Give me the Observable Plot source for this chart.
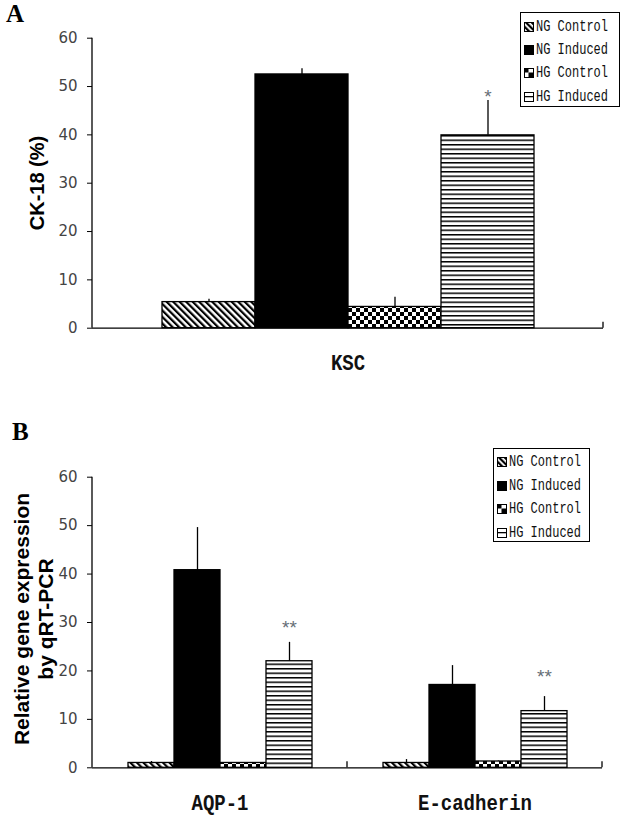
<!DOCTYPE html>
<html><head><meta charset="utf-8">
<script src="https://cdn.jsdelivr.net/npm/d3@7"></script>
<script src="https://cdn.jsdelivr.net/npm/@observablehq/plot@0.6"></script>
<style>
body{margin:0;background:#fff;}
#page{position:relative;width:620px;height:817px;overflow:hidden;background:#fff;}
.panel{position:absolute;left:0;}
.letter{position:absolute;font-family:"Liberation Serif";font-weight:bold;font-size:25px;line-height:1;color:#000;}
.ylab{position:absolute;font-family:"Liberation Sans";font-weight:bold;font-size:20px;white-space:nowrap;transform:translate(-50%,-50%) rotate(-90deg);text-align:center;line-height:24px;color:#000;}
.legend{position:absolute;border:1.5px solid #000;background:#fff;box-sizing:border-box;font-family:"Liberation Mono";font-size:12px;color:#111;}
.legend .row{position:absolute;display:flex;align-items:center;height:20px;white-space:pre;}
.legend svg{margin-right:2px;}
.legend span{display:inline-block;transform:scaleY(1.3);}
</style></head>
<body>
<div id="page">
<svg width="0" height="0" style="position:absolute">
  <defs>
    <pattern id="p-diag" patternUnits="userSpaceOnUse" width="4.6" height="4.6" patternTransform="rotate(-45)"><rect width="4.6" height="4.6" fill="#fff"/><rect width="2.2" height="4.6" fill="#000"/></pattern>
    <pattern id="p-check" patternUnits="userSpaceOnUse" width="8" height="8"><rect width="8" height="8" fill="#fff"/><rect width="4" height="4" fill="#000"/><rect x="4" y="4" width="4" height="4" fill="#000"/></pattern>
    <pattern id="p-hline" patternUnits="userSpaceOnUse" width="10" height="4.5"><rect width="10" height="4.5" fill="#fff"/><rect width="10" height="1.5" fill="#000"/></pattern>
    <pattern id="s-diag" patternUnits="userSpaceOnUse" width="4" height="4" patternTransform="rotate(-45)"><rect width="4" height="4" fill="#fff"/><rect width="2.2" height="4" fill="#000"/></pattern>
    <pattern id="s-check" patternUnits="userSpaceOnUse" width="9" height="9"><rect width="9" height="9" fill="#fff"/><rect width="4.5" height="4.5" fill="#000"/><rect x="4.5" y="4.5" width="4.5" height="4.5" fill="#000"/></pattern>
    <pattern id="s-hline" patternUnits="userSpaceOnUse" width="9" height="9"><rect width="9" height="9" fill="#fff"/><rect y="4" width="9" height="1.3" fill="#000"/></pattern>
  </defs>
</svg>
<div id="A" class="panel" style="top:0"></div>
<div id="B" class="panel" style="top:380px"></div>
<div class="letter" style="left:6px;top:1px">A</div>
<div class="letter" style="left:12px;top:419px">B</div>
<div class="ylab" style="left:37px;top:183px">CK-18 (%)</div>
<div class="ylab" style="left:34px;top:619px;font-size:21px">Relative gene expression<br>by qRT-PCR</div>
</div>
<script>
// ---- data ----
const seriesNames = ["NG Control", "NG Induced", "HG Control", "HG Induced"];
const seriesFills = ["url(#p-diag)", "#000", "url(#p-check)", "url(#p-hline)"];
const swatchFills = ["url(#s-diag)", "#000", "url(#s-check)", "url(#s-hline)"];
const yTicks = [0, 10, 20, 30, 40, 50, 60];

const groupsA = ["KSC"];
const meanKSC = [5.4, 52.5, 4.4, 39.9];
const errKSC  = [0.6, 1.2, 2.0, 7.2];
const starsA = [{group: "KSC", series: "HG Induced", y: 48.9, label: "*"}];

const groupsB = ["AQP-1", "E-cadherin"];
const meanAQP = [1.0, 40.8, 1.0, 22.0];
const errAQP  = [0.3, 8.8, 0.1, 3.9];
const meanECAD = [1.0, 17.1, 1.3, 11.7];
const errECAD  = [0.7, 4.0, 0.1, 3.0];
const starsB = [
  {group: "AQP-1", series: "HG Induced", y: 29.9, label: "**"},
  {group: "E-cadherin", series: "HG Induced", y: 19.8, label: "**"}
];

// ---- build tables ----
const rows = (group, means, errs) => seriesNames.map((s, i) => ({group, series: s, mean: means[i], err: errs[i]}));
const dataA = rows("KSC", meanKSC, errKSC);
const dataB = [...rows("AQP-1", meanAQP, errAQP), ...rows("E-cadherin", meanECAD, errECAD)];

function makePanel(data, groups, stars, opts) {
  const plot = Plot.plot({
    width: 620, height: opts.height,
    marginLeft: 92, marginRight: opts.marginRight, marginTop: opts.marginTop, marginBottom: opts.marginBottom,
    style: {fontFamily: "DejaVu Sans", fontSize: "15px", background: "transparent", overflow: "visible", color: "#000"},
    fx: {domain: groups, padding: 0, label: null},
    x: {domain: seriesNames, paddingInner: 0, paddingOuter: 0.73, axis: null},
    y: {domain: [0, 60]},
    color: {domain: seriesNames, range: seriesFills},
    marks: [
      Plot.barY(data, {fx: "group", x: "series", y: "mean", fill: "series", stroke: "#000", strokeWidth: 1.3}),
      Plot.ruleX(data, {fx: "group", x: "series", y1: "mean", y2: d => d.mean + d.err, stroke: "#000", strokeWidth: 1.3}),
      Plot.ruleY([0], {stroke: "#000", strokeWidth: 1.3}),
      Plot.axisY({ticks: yTicks, tickSize: 5, tickPadding: 10, label: null, fontFamily: "DejaVu Sans", fontSize: 15, fill: "#444", stroke: "#000"}),
      Plot.axisFx({anchor: "bottom", tickSize: 0, tickPadding: 27, label: null, fontFamily: "Liberation Mono", fontWeight: "bold", fontSize: 19, fill: "#111"}),
      Plot.text(stars, {fx: "group", x: "series", y: "y", text: "label", fontFamily: "Liberation Sans", fontSize: 19, fill: "#666e76", dy: 5})
    ]
  });
  // y axis line and category boundary ticks from the plot's own scales
  const fx = plot.scale("fx"), y = plot.scale("y");
  const svg = d3.select(plot);
  const x0 = fx.range[0];
  svg.append("line").attr("x1", x0).attr("x2", x0).attr("y1", y.apply(0)).attr("y2", y.apply(60))
    .attr("stroke", "#000").attr("stroke-width", 1.3);
  groups.forEach(g => {
    const xr = fx.apply(g) + fx.bandwidth;
    svg.append("line").attr("x1", xr).attr("x2", xr).attr("y1", y.apply(0)).attr("y2", y.apply(0) - 6)
      .attr("stroke", "#000").attr("stroke-width", 1.3);
  });
  // slightly taller glyphs for the category labels (SimSun-like proportions)
  svg.selectAll("[aria-label='fx-axis tick label'] text").each(function() {
    const t = d3.select(this);
    const tr = t.attr("transform");
    if (tr) t.attr("transform", tr + " scale(1,1.12)");
  });
  return plot;
}

document.getElementById("A").appendChild(makePanel(dataA, groupsA, starsA, {height: 380, marginTop: 37.7, marginBottom: 52.3, marginRight: 17}));
document.getElementById("B").appendChild(makePanel(dataB, groupsB, starsB, {height: 437, marginTop: 96.7, marginBottom: 49.7, marginRight: 18}));

// ---- legends ----
function legend(left, top, width, height, centers, swLeft) {
  const div = document.createElement("div");
  div.className = "legend";
  Object.assign(div.style, {left: left + "px", top: top + "px", width: width + "px", height: height + "px"});
  seriesNames.forEach((s, i) => {
    const r = document.createElement("div");
    r.className = "row";
    r.style.left = swLeft + "px";
    r.style.top = (centers[i] - top - 1.5 - 10) + "px";
    r.innerHTML = `<svg width="10" height="10"><rect x="0.5" y="0.5" width="9" height="9" fill="${swatchFills[i]}" stroke="#000" stroke-width="1"/></svg><span>${s}</span>`;
    div.appendChild(r);
  });
  document.getElementById("page").appendChild(div);
}
legend(520, 12, 100, 95, [27, 50, 73, 97], 3);
legend(493, 448, 97, 94, [462, 486, 509.5, 533], 3);
</script>
</body></html>
